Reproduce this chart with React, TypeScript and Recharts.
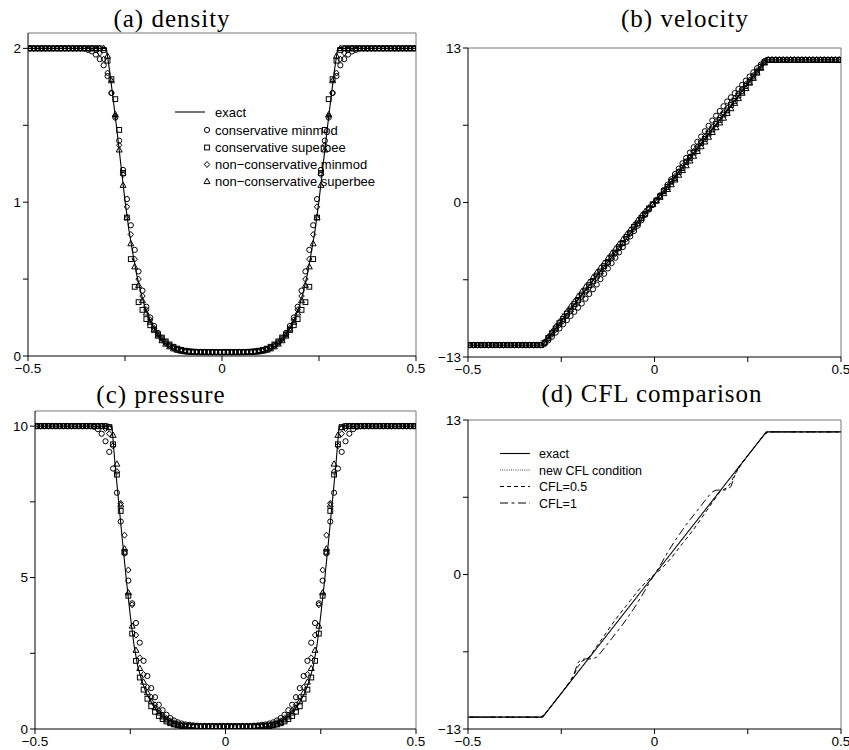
import { ComposedChart, Line, Scatter, XAxis, YAxis, ReferenceLine } from "recharts";

// cell centres of the 100-cell mesh on [-0.5, 0.5]
const XC = Array.from({ length: 100 }, (_, i) => +(-0.495 + i * 0.01).toFixed(3));

// ---- (a) density ----
const RHO_EXACT_X = [
  -0.5, -0.298, -0.29, -0.28, -0.27, -0.26, -0.25, -0.24, -0.23, -0.22, -0.21, -0.2, -0.19, -0.18, -0.17, -0.16,
  -0.15, -0.14, -0.12, -0.1, -0.08, -0.06, -0.03, 0, 0.03, 0.06, 0.08, 0.1, 0.12, 0.14, 0.15, 0.16, 0.17, 0.18,
  0.19, 0.2, 0.21, 0.22, 0.23, 0.24, 0.25, 0.26, 0.27, 0.28, 0.29, 0.298, 0.5,
];
const RHO_EXACT = [
  2, 2, 1.86, 1.66, 1.45, 1.23, 1.01, 0.82, 0.67, 0.53, 0.42, 0.33, 0.26, 0.2, 0.155, 0.12,
  0.092, 0.07, 0.042, 0.025, 0.016, 0.012, 0.01, 0.01, 0.01, 0.012, 0.016, 0.025, 0.042, 0.07, 0.092, 0.12, 0.155, 0.2,
  0.26, 0.33, 0.42, 0.53, 0.67, 0.82, 1.01, 1.23, 1.45, 1.66, 1.86, 2, 2,
];
const RHO_CONS_MINMOD = [
  2, 2, 2, 2, 2, 2, 2, 2, 2, 2,
  2, 2, 2, 2, 2, 1.99, 1.98, 1.96, 1.93, 1.89,
  1.82, 1.71, 1.55, 1.4, 1.21, 1.02, 0.85, 0.69, 0.55, 0.425,
  0.32, 0.25, 0.195, 0.15, 0.115, 0.09, 0.07, 0.055, 0.045, 0.038,
  0.033, 0.03, 0.028, 0.027, 0.026, 0.026, 0.025, 0.025, 0.025, 0.025,
  0.025, 0.025, 0.025, 0.025, 0.026, 0.026, 0.027, 0.028, 0.03, 0.033,
  0.038, 0.045, 0.055, 0.07, 0.09, 0.115, 0.15, 0.195, 0.25, 0.32,
  0.425, 0.55, 0.69, 0.85, 1.02, 1.21, 1.4, 1.55, 1.71, 1.82,
  1.89, 1.93, 1.96, 1.98, 1.99, 2, 2, 2, 2, 2,
  2, 2, 2, 2, 2, 2, 2, 2, 2, 2,
];
const RHO_CONS_SUPERBEE = [
  2, 2, 2, 2, 2, 2, 2, 2, 2, 2,
  2, 2, 2, 2, 2, 2, 2, 2, 2, 1.99,
  1.92, 1.8, 1.67, 1.47, 1.19, 0.9, 0.63, 0.45, 0.35, 0.3,
  0.24, 0.2, 0.17, 0.14, 0.12, 0.095, 0.075, 0.06, 0.048, 0.04,
  0.034, 0.03, 0.028, 0.026, 0.025, 0.025, 0.025, 0.025, 0.025, 0.025,
  0.025, 0.025, 0.025, 0.025, 0.025, 0.025, 0.026, 0.028, 0.03, 0.034,
  0.04, 0.048, 0.06, 0.075, 0.095, 0.12, 0.14, 0.17, 0.2, 0.24,
  0.3, 0.35, 0.45, 0.63, 0.9, 1.19, 1.47, 1.67, 1.8, 1.92,
  1.99, 2, 2, 2, 2, 2, 2, 2, 2, 2,
  2, 2, 2, 2, 2, 2, 2, 2, 2, 2,
];
const RHO_NONCONS_MINMOD = [
  2, 2, 2, 2, 2, 2, 2, 2, 2, 2,
  2, 2, 2, 2, 2, 2, 2, 1.99, 1.97, 1.93,
  1.84, 1.71, 1.56, 1.37, 1.18, 0.97, 0.79, 0.63, 0.5, 0.39,
  0.3, 0.235, 0.18, 0.14, 0.108, 0.083, 0.065, 0.05, 0.04, 0.034,
  0.03, 0.027, 0.026, 0.025, 0.025, 0.025, 0.025, 0.025, 0.025, 0.025,
  0.025, 0.025, 0.025, 0.025, 0.025, 0.025, 0.025, 0.026, 0.027, 0.03,
  0.034, 0.04, 0.05, 0.065, 0.083, 0.108, 0.14, 0.18, 0.235, 0.3,
  0.39, 0.5, 0.63, 0.79, 0.97, 1.18, 1.37, 1.56, 1.71, 1.84,
  1.93, 1.97, 1.99, 2, 2, 2, 2, 2, 2, 2,
  2, 2, 2, 2, 2, 2, 2, 2, 2, 2,
];
const RHO_NONCONS_SUPERBEE = [
  2, 2, 2, 2, 2, 2, 2, 2, 2, 2,
  2, 2, 2, 2, 2, 2, 2, 2, 2, 2,
  1.95, 1.79, 1.57, 1.34, 1.11, 0.9, 0.73, 0.58, 0.46, 0.36,
  0.28, 0.22, 0.17, 0.13, 0.1, 0.078, 0.06, 0.047, 0.038, 0.032,
  0.028, 0.026, 0.025, 0.025, 0.025, 0.025, 0.025, 0.025, 0.025, 0.025,
  0.025, 0.025, 0.025, 0.025, 0.025, 0.025, 0.025, 0.025, 0.026, 0.028,
  0.032, 0.038, 0.047, 0.06, 0.078, 0.1, 0.13, 0.17, 0.22, 0.28,
  0.36, 0.46, 0.58, 0.73, 0.9, 1.11, 1.34, 1.57, 1.79, 1.95,
  2, 2, 2, 2, 2, 2, 2, 2, 2, 2,
  2, 2, 2, 2, 2, 2, 2, 2, 2, 2,
];

// ---- (b) velocity ----
const U_EXACT_X = [-0.5, -0.3, 0, 0.3, 0.5];
const U_EXACT = [-12, -12, 0, 12, 12];
const U_CONS_MINMOD = [
  -12, -12, -12, -12, -12, -12, -12, -12, -12, -12,
  -12, -12, -12, -12, -12, -12, -12, -12, -12, -12,
  -11.9, -11.6, -11.3, -10.95, -10.6, -10.25, -9.9, -9.55, -9.2, -8.85,
  -8.5, -8.1, -7.7, -7.3, -6.9, -6.45, -6, -5.55, -5.1, -4.65,
  -4.2, -3.75, -3.3, -2.85, -2.4, -1.95, -1.5, -1.05, -0.6, -0.2,
  0.2, 0.6, 1.05, 1.5, 1.95, 2.4, 2.85, 3.3, 3.75, 4.2,
  4.65, 5.1, 5.55, 6, 6.45, 6.9, 7.3, 7.7, 8.1, 8.5,
  8.85, 9.2, 9.55, 9.9, 10.25, 10.6, 10.95, 11.3, 11.6, 11.9,
  12, 12, 12, 12, 12, 12, 12, 12, 12, 12,
  12, 12, 12, 12, 12, 12, 12, 12, 12, 12,
];
const U_CONS_SUPERBEE = [
  -12, -12, -12, -12, -12, -12, -12, -12, -12, -12,
  -12, -12, -12, -12, -12, -12, -12, -12, -12, -12,
  -11.8, -11.4, -11, -10.6, -10.15, -9.8, -9.35, -9, -8.55, -8.2,
  -7.75, -7.4, -6.95, -6.6, -6.15, -5.8, -5.35, -5, -4.55, -4.2,
  -3.75, -3.4, -2.9, -2.55, -2.05, -1.75, -1.3, -0.95, -0.5, -0.15,
  0.15, 0.5, 0.95, 1.3, 1.75, 2.05, 2.55, 2.9, 3.4, 3.75,
  4.2, 4.55, 5, 5.35, 5.8, 6.15, 6.6, 6.95, 7.4, 7.75,
  8.2, 8.55, 9, 9.35, 9.8, 10.15, 10.6, 11, 11.4, 11.8,
  12, 12, 12, 12, 12, 12, 12, 12, 12, 12,
  12, 12, 12, 12, 12, 12, 12, 12, 12, 12,
];
const U_NONCONS_MINMOD = [
  -12, -12, -12, -12, -12, -12, -12, -12, -12, -12,
  -12, -12, -12, -12, -12, -12, -12, -12, -12, -12,
  -11.85, -11.5, -11.1, -10.7, -10.3, -9.95, -9.55, -9.15, -8.75, -8.35,
  -7.95, -7.55, -7.15, -6.75, -6.35, -5.95, -5.5, -5.1, -4.7, -4.3,
  -3.85, -3.45, -3.05, -2.6, -2.2, -1.8, -1.35, -0.95, -0.55, -0.2,
  0.2, 0.55, 0.95, 1.35, 1.8, 2.2, 2.6, 3.05, 3.45, 3.85,
  4.3, 4.7, 5.1, 5.5, 5.95, 6.35, 6.75, 7.15, 7.55, 7.95,
  8.35, 8.75, 9.15, 9.55, 9.95, 10.3, 10.7, 11.1, 11.5, 11.85,
  12, 12, 12, 12, 12, 12, 12, 12, 12, 12,
  12, 12, 12, 12, 12, 12, 12, 12, 12, 12,
];
const U_NONCONS_SUPERBEE = [
  -12, -12, -12, -12, -12, -12, -12, -12, -12, -12,
  -12, -12, -12, -12, -12, -12, -12, -12, -12, -12,
  -11.75, -11.3, -10.9, -10.45, -10.05, -9.6, -9.2, -8.75, -8.35, -7.9,
  -7.5, -7.1, -6.7, -6.3, -5.9, -5.5, -5.1, -4.7, -4.3, -3.9,
  -3.5, -3.1, -2.7, -2.3, -1.9, -1.5, -1.1, -0.75, -0.45, -0.15,
  0.15, 0.45, 0.75, 1.1, 1.5, 1.9, 2.3, 2.7, 3.1, 3.5,
  3.9, 4.3, 4.7, 5.1, 5.5, 5.9, 6.3, 6.7, 7.1, 7.5,
  7.9, 8.35, 8.75, 9.2, 9.6, 10.05, 10.45, 10.9, 11.3, 11.75,
  12, 12, 12, 12, 12, 12, 12, 12, 12, 12,
  12, 12, 12, 12, 12, 12, 12, 12, 12, 12,
];

// ---- (c) pressure ----
const P_EXACT = [
  10, 10, 8.75, 7.45, 6.15, 4.9, 3.75, 2.75, 2.05, 1.6, 1.25, 1, 0.79, 0.62, 0.48, 0.37,
  0.28, 0.21, 0.11, 0.055, 0.025, 0.01, 0.005, 0, 0.005, 0.01, 0.025, 0.055, 0.11, 0.21, 0.28, 0.37, 0.48, 0.62,
  0.79, 1, 1.25, 1.6, 2.05, 2.75, 3.75, 4.9, 6.15, 7.45, 8.75, 10, 10,
];
const P_CONS_MINMOD = [
  10, 10, 10, 10, 10, 10, 10, 10, 10, 10,
  10, 10, 10, 10, 10, 9.98, 9.9, 9.75, 9.5, 9.15,
  8.6, 7.8, 6.85, 5.8, 4.9, 4.15, 3.5, 2.85, 2.25, 1.75,
  1.35, 1.05, 0.8, 0.62, 0.47, 0.36, 0.28, 0.22, 0.18, 0.15,
  0.14, 0.12, 0.11, 0.1, 0.1, 0.1, 0.1, 0.1, 0.1, 0.1,
  0.1, 0.1, 0.1, 0.1, 0.1, 0.1, 0.1, 0.11, 0.12, 0.14,
  0.15, 0.18, 0.22, 0.28, 0.36, 0.47, 0.62, 0.8, 1.05, 1.35,
  1.75, 2.25, 2.85, 3.5, 4.15, 4.9, 5.8, 6.85, 7.8, 8.6,
  9.15, 9.5, 9.75, 9.9, 9.98, 10, 10, 10, 10, 10,
  10, 10, 10, 10, 10, 10, 10, 10, 10, 10,
];
const P_CONS_SUPERBEE = [
  10, 10, 10, 10, 10, 10, 10, 10, 10, 10,
  10, 10, 10, 10, 10, 10, 10, 10, 10, 9.97,
  9.4, 8.4, 7.2, 5.85, 4.4, 3.15, 2.25, 1.7, 1.3, 1,
  0.75, 0.57, 0.43, 0.33, 0.25, 0.19, 0.15, 0.12, 0.1, 0.09,
  0.085, 0.08, 0.08, 0.08, 0.08, 0.08, 0.08, 0.08, 0.08, 0.08,
  0.08, 0.08, 0.08, 0.08, 0.08, 0.08, 0.08, 0.08, 0.08, 0.085,
  0.09, 0.1, 0.12, 0.15, 0.19, 0.25, 0.33, 0.43, 0.57, 0.75,
  1, 1.3, 1.7, 2.25, 3.15, 4.4, 5.85, 7.2, 8.4, 9.4,
  9.97, 10, 10, 10, 10, 10, 10, 10, 10, 10,
  10, 10, 10, 10, 10, 10, 10, 10, 10, 10,
];
const P_NONCONS_MINMOD = [
  10, 10, 10, 10, 10, 10, 10, 10, 10, 10,
  10, 10, 10, 10, 10, 10, 10, 10, 9.92, 9.75,
  9.35, 8.5, 7.45, 6.4, 5.25, 4.1, 3.1, 2.35, 1.8, 1.38,
  1.05, 0.8, 0.6, 0.46, 0.35, 0.27, 0.21, 0.16, 0.13, 0.11,
  0.1, 0.095, 0.09, 0.09, 0.09, 0.09, 0.09, 0.09, 0.09, 0.09,
  0.09, 0.09, 0.09, 0.09, 0.09, 0.09, 0.09, 0.09, 0.095, 0.1,
  0.11, 0.13, 0.16, 0.21, 0.27, 0.35, 0.46, 0.6, 0.8, 1.05,
  1.38, 1.8, 2.35, 3.1, 4.1, 5.25, 6.4, 7.45, 8.5, 9.35,
  9.75, 9.92, 10, 10, 10, 10, 10, 10, 10, 10,
  10, 10, 10, 10, 10, 10, 10, 10, 10, 10,
];
const P_NONCONS_SUPERBEE = [
  10, 10, 10, 10, 10, 10, 10, 10, 10, 10,
  10, 10, 10, 10, 10, 10, 10, 10, 10, 9.95,
  9.7, 8.75, 7.4, 5.95, 4.5, 3.4, 2.6, 2, 1.55, 1.2,
  0.92, 0.7, 0.53, 0.4, 0.3, 0.22, 0.16, 0.12, 0.1, 0.09,
  0.085, 0.08, 0.08, 0.08, 0.08, 0.08, 0.08, 0.08, 0.08, 0.08,
  0.08, 0.08, 0.08, 0.08, 0.08, 0.08, 0.08, 0.08, 0.08, 0.085,
  0.09, 0.1, 0.12, 0.16, 0.22, 0.3, 0.4, 0.53, 0.7, 0.92,
  1.2, 1.55, 2, 2.6, 3.4, 4.5, 5.95, 7.4, 8.75, 9.7,
  9.95, 10, 10, 10, 10, 10, 10, 10, 10, 10,
  10, 10, 10, 10, 10, 10, 10, 10, 10, 10,
];

// ---- (d) CFL comparison ----
const U_NEW_CFL = [
  -12, -12, -12, -12, -12, -12, -12, -12, -12, -12,
  -12, -12, -12, -12, -12, -12, -12, -12, -12, -12,
  -11.8, -11.4, -11, -10.6, -10.2, -9.8, -9.4, -9, -8.6, -8.2,
  -7.8, -7.4, -7, -6.6, -6.2, -5.8, -5.4, -5, -4.6, -4.2,
  -3.8, -3.4, -3, -2.6, -2.2, -1.8, -1.4, -1, -0.6, -0.2,
  0.2, 0.6, 1, 1.4, 1.8, 2.2, 2.6, 3, 3.4, 3.8,
  4.2, 4.6, 5, 5.4, 5.8, 6.2, 6.6, 7, 7.4, 7.8,
  8.2, 8.6, 9, 9.4, 9.8, 10.2, 10.6, 11, 11.4, 11.8,
  12, 12, 12, 12, 12, 12, 12, 12, 12, 12,
  12, 12, 12, 12, 12, 12, 12, 12, 12, 12,
];
const U_CFL_05 = [
  -12, -12, -12, -12, -12, -12, -12, -12, -12, -12,
  -12, -12, -12, -12, -12, -12, -12, -12, -12, -12,
  -11.8, -11.4, -11, -10.6, -10.2, -9.8, -9.35, -8.9, -8.4, -7.75,
  -7.3, -7.15, -6.95, -6.5, -6.05, -5.6, -5.15, -4.7, -4.25, -3.8,
  -3.4, -3, -2.6, -2.2, -1.8, -1.4, -1.05, -0.7, -0.4, -0.12,
  0.12, 0.4, 0.7, 1.05, 1.4, 1.8, 2.2, 2.6, 3, 3.4,
  3.8, 4.25, 4.7, 5.15, 5.6, 6.05, 6.5, 6.95, 7.15, 7.3,
  7.75, 8.4, 8.9, 9.35, 9.8, 10.2, 10.6, 11, 11.4, 11.8,
  12, 12, 12, 12, 12, 12, 12, 12, 12, 12,
  12, 12, 12, 12, 12, 12, 12, 12, 12, 12,
];
const U_CFL_1 = [
  -12, -12, -12, -12, -12, -12, -12, -12, -12, -12,
  -12, -12, -12, -12, -12, -12, -12, -12, -12, -12,
  -11.8, -11.4, -11, -10.6, -10.2, -9.8, -9.4, -9, -8.3, -7.4,
  -7.15, -7.1, -7.1, -7.1, -6.95, -6.6, -6.2, -5.8, -5.4, -5,
  -4.6, -4.2, -3.75, -3.3, -2.85, -2.35, -1.85, -1.3, -0.75, -0.25,
  0.25, 0.75, 1.3, 1.85, 2.35, 2.85, 3.3, 3.75, 4.2, 4.6,
  5, 5.4, 5.8, 6.2, 6.6, 6.95, 7.1, 7.1, 7.1, 7.15,
  7.4, 8.3, 9, 9.4, 9.8, 10.2, 10.6, 11, 11.4, 11.8,
  12, 12, 12, 12, 12, 12, 12, 12, 12, 12,
  12, 12, 12, 12, 12, 12, 12, 12, 12, 12,
];

// ticks
const XTICKS = [-0.5, -0.25, 0, 0.25, 0.5];
const XLABELS = ["−0.5", "", "0", "", "0.5"];
const RHO_TICKS = [0, 0.5, 1, 1.5, 2];
const RHO_LABELS = ["0", "", "1", "", "2"];
const U_TICKS = [-13, -6.5, 0, 6.5, 13];
const U_LABELS = ["−13", "", "0", "", "13"];
const P_TICKS = [0, 2.5, 5, 7.5, 10];
const P_LABELS = ["0", "", "5", "", "10"];

const SANS = "'Liberation Sans', Arial, Helvetica, sans-serif";
const SERIF = "'Liberation Serif', 'Times New Roman', serif";
const SW = 1;

const pts = (xs: number[], ys: number[]) => xs.map((x, i) => ({ x, y: ys[i] }));

const Circ = ({ cx, cy }: any) => <circle cx={cx} cy={cy} r={2.6} fill="none" stroke="#000" strokeWidth={SW} />;
const Sq = ({ cx, cy }: any) => (
  <rect x={cx - 2.4} y={cy - 2.4} width={4.8} height={4.8} fill="none" stroke="#000" strokeWidth={SW} />
);
const Dia = ({ cx, cy }: any) => (
  <polygon
    points={`${cx},${cy - 3} ${cx + 2.7},${cy} ${cx},${cy + 3} ${cx - 2.7},${cy}`}
    fill="none"
    stroke="#000"
    strokeWidth={SW}
  />
);
const Tri = ({ cx, cy }: any) => (
  <polygon
    points={`${cx},${cy - 3.2} ${cx + 3},${cy + 2.1} ${cx - 3},${cy + 2.1}`}
    fill="none"
    stroke="#000"
    strokeWidth={SW}
  />
);

const tickStyle = { fill: "#000", fontSize: 13.5, fontFamily: SANS };

function axes(yDomain: number[], yTicks: number[], yLabels: string[], yWidth: number, xHeight: number) {
  return [
    <XAxis
      key="x"
      type="number"
      dataKey="x"
      domain={[-0.5, 0.5]}
      ticks={XTICKS}
      interval={0}
      allowDataOverflow
      height={xHeight}
      tickSize={5}
      stroke="#000"
      tick={tickStyle}
      tickFormatter={(v: number) => XLABELS[XTICKS.indexOf(v)] ?? ""}
    />,
    <YAxis
      key="y"
      type="number"
      dataKey="y"
      domain={yDomain}
      ticks={yTicks}
      interval={0}
      allowDataOverflow
      width={yWidth}
      tickSize={5}
      stroke="#000"
      tick={tickStyle}
      tickFormatter={(v: number) => yLabels[yTicks.indexOf(v)] ?? ""}
    />,
    <ReferenceLine key="top" y={yDomain[1]} stroke="#777" strokeWidth={1} />,
    <ReferenceLine key="right" x={0.5} stroke="#777" strokeWidth={1} />,
  ];
}

function markerSeries(a: number[], b: number[], c: number[], d: number[]) {
  return [
    <Scatter key="cm" data={pts(XC, a)} dataKey="y" shape={(p: any) => <Circ cx={p.cx} cy={p.cy} />} isAnimationActive={false} />,
    <Scatter key="cs" data={pts(XC, b)} dataKey="y" shape={(p: any) => <Sq cx={p.cx} cy={p.cy} />} isAnimationActive={false} />,
    <Scatter key="nm" data={pts(XC, c)} dataKey="y" shape={(p: any) => <Dia cx={p.cx} cy={p.cy} />} isAnimationActive={false} />,
    <Scatter key="ns" data={pts(XC, d)} dataKey="y" shape={(p: any) => <Tri cx={p.cx} cy={p.cy} />} isAnimationActive={false} />,
  ];
}

const exactLine = (data: { x: number; y: number }[]) => (
  <Line
    data={data}
    dataKey="y"
    type="linear"
    dot={false}
    activeDot={false}
    stroke="#000"
    strokeWidth={1.1}
    isAnimationActive={false}
  />
);

export default function App() {
  return (
    <div style={{ position: "absolute", left: 0, top: 0, width: 849, height: 750, background: "#fff", overflow: "hidden" }}>
      <div style={{ position: "absolute", left: 0, top: 0 }}>
        <ComposedChart width={425} height={381} margin={{ top: 33, right: 9, bottom: 6, left: 0 }}>
          {axes([0, 2.1], RHO_TICKS, RHO_LABELS, 28, 19)}
          {exactLine(pts(RHO_EXACT_X, RHO_EXACT))}
          {markerSeries(RHO_CONS_MINMOD, RHO_CONS_SUPERBEE, RHO_NONCONS_MINMOD, RHO_NONCONS_SUPERBEE)}
        </ComposedChart>
      </div>
      <div style={{ position: "absolute", left: 425, top: 0 }}>
        <ComposedChart width={424} height={381} margin={{ top: 48, right: 8, bottom: 6, left: 0 }}>
          {axes([-13, 13], U_TICKS, U_LABELS, 43, 18)}
          {exactLine(pts(U_EXACT_X, U_EXACT))}
          {markerSeries(U_CONS_MINMOD, U_CONS_SUPERBEE, U_NONCONS_MINMOD, U_NONCONS_SUPERBEE)}
        </ComposedChart>
      </div>
      <div style={{ position: "absolute", left: 0, top: 375 }}>
        <ComposedChart width={425} height={375} margin={{ top: 36, right: 9, bottom: 0, left: 0 }}>
          {axes([0, 10.5], P_TICKS, P_LABELS, 35, 21)}
          {exactLine(pts(RHO_EXACT_X, P_EXACT))}
          {markerSeries(P_CONS_MINMOD, P_CONS_SUPERBEE, P_NONCONS_MINMOD, P_NONCONS_SUPERBEE)}
        </ComposedChart>
      </div>
      <div style={{ position: "absolute", left: 425, top: 375 }}>
        <ComposedChart width={424} height={375} margin={{ top: 45, right: 8, bottom: 0, left: 0 }}>
          {axes([-13, 13], U_TICKS, U_LABELS, 43, 21)}
          {exactLine(pts(U_EXACT_X, U_EXACT))}
          <Line data={pts(XC, U_NEW_CFL)} dataKey="y" dot={false} activeDot={false} stroke="#444" strokeWidth={1} strokeDasharray="1 1.2" isAnimationActive={false} />
          <Line data={pts(XC, U_CFL_05)} dataKey="y" dot={false} activeDot={false} stroke="#000" strokeWidth={1} strokeDasharray="4 3" isAnimationActive={false} />
          <Line data={pts(XC, U_CFL_1)} dataKey="y" dot={false} activeDot={false} stroke="#000" strokeWidth={1} strokeDasharray="8 3.5 3 3.5" isAnimationActive={false} />
        </ComposedChart>
      </div>

      <svg width={849} height={750} style={{ position: "absolute", left: 0, top: 0, pointerEvents: "none" }}>
        <g fontFamily={SERIF} fontSize={25} letterSpacing={1} textAnchor="middle" fill="#000">
          <text x={172} y={27}>(a) density</text>
          <text x={685} y={27}>(b) velocity</text>
          <text x={161} y={403}>(c) pressure</text>
          <text x={652} y={402}>(d) CFL comparison</text>
        </g>

        <g fontFamily={SANS} fontSize={13} fill="#000">
          <line x1={175} x2={205} y1={112} y2={112} stroke="#000" strokeWidth={1.1} />
          <text x={215} y={116.5}>exact</text>
          <Circ cx={207} cy={130} />
          <text x={215} y={134.5}>conservative minmod</text>
          <Sq cx={207} cy={147.5} />
          <text x={215} y={152}>conservative superbee</text>
          <Dia cx={207} cy={164.5} />
          <text x={215} y={169}>non−conservative minmod</text>
          <Tri cx={207} cy={181.5} />
          <text x={215} y={186}>non−conservative superbee</text>
        </g>

        <g fontFamily={SANS} fontSize={12.5} fill="#000">
          <line x1={500} x2={530} y1={453.5} y2={453.5} stroke="#000" strokeWidth={1.1} />
          <text x={539} y={458}>exact</text>
          <line x1={500} x2={530} y1={470} y2={470} stroke="#444" strokeWidth={1} strokeDasharray="1 1.2" />
          <text x={539} y={474.5}>new CFL condition</text>
          <line x1={500} x2={530} y1={486.5} y2={486.5} stroke="#000" strokeWidth={1} strokeDasharray="4 3" />
          <text x={539} y={491}>CFL=0.5</text>
          <line x1={500} x2={530} y1={503} y2={503} stroke="#000" strokeWidth={1} strokeDasharray="8 3.5 3 3.5" />
          <text x={539} y={507.5}>CFL=1</text>
        </g>
      </svg>
    </div>
  );
}
